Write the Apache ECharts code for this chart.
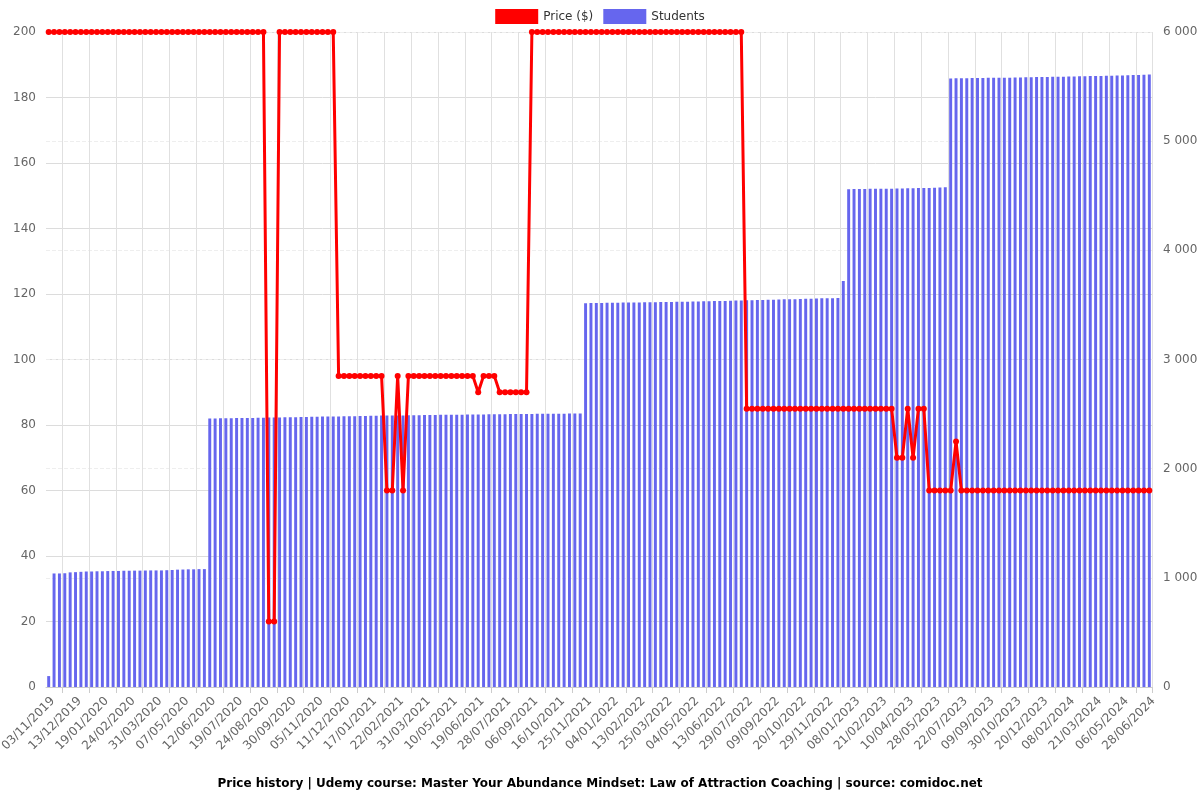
<!DOCTYPE html>
<html>
<head>
<meta charset="utf-8">
<script src="https://cdn.jsdelivr.net/npm/echarts@6/dist/echarts.min.js"></script>
<style>html,body{margin:0;padding:0;background:#fff}#chart{width:1200px;height:800px}</style>
</head>
<body>
<div id="chart"></div>
<script>
// Snapshot dates (category axis); every 5th date is shown as a tick label
const dates = [
'03/11/2019','11/11/2019','19/11/2019','27/11/2019','05/12/2019',
'13/12/2019','20/12/2019','28/12/2019','04/01/2020','11/01/2020',
'19/01/2020','26/01/2020','03/02/2020','10/02/2020','17/02/2020',
'24/02/2020','02/03/2020','09/03/2020','17/03/2020','24/03/2020',
'31/03/2020','07/04/2020','15/04/2020','22/04/2020','30/04/2020',
'07/05/2020','14/05/2020','21/05/2020','29/05/2020','05/06/2020',
'12/06/2020','19/06/2020','27/06/2020','04/07/2020','12/07/2020',
'19/07/2020','26/07/2020','02/08/2020','10/08/2020','17/08/2020',
'24/08/2020','31/08/2020','08/09/2020','15/09/2020','23/09/2020',
'30/09/2020','07/10/2020','14/10/2020','22/10/2020','29/10/2020',
'05/11/2020','12/11/2020','19/11/2020','27/11/2020','04/12/2020',
'11/12/2020','18/12/2020','26/12/2020','02/01/2021','10/01/2021',
'17/01/2021','24/01/2021','31/01/2021','08/02/2021','15/02/2021',
'22/02/2021','01/03/2021','09/03/2021','16/03/2021','24/03/2021',
'31/03/2021','08/04/2021','16/04/2021','24/04/2021','02/05/2021',
'10/05/2021','18/05/2021','26/05/2021','03/06/2021','11/06/2021',
'19/06/2021','27/06/2021','05/07/2021','12/07/2021','20/07/2021',
'28/07/2021','05/08/2021','13/08/2021','21/08/2021','29/08/2021',
'06/09/2021','14/09/2021','22/09/2021','30/09/2021','08/10/2021',
'16/10/2021','24/10/2021','01/11/2021','09/11/2021','17/11/2021',
'25/11/2021','03/12/2021','11/12/2021','19/12/2021','27/12/2021',
'04/01/2022','12/01/2022','20/01/2022','28/01/2022','05/02/2022',
'13/02/2022','21/02/2022','01/03/2022','09/03/2022','17/03/2022',
'25/03/2022','02/04/2022','10/04/2022','18/04/2022','26/04/2022',
'04/05/2022','12/05/2022','20/05/2022','28/05/2022','05/06/2022',
'13/06/2022','22/06/2022','01/07/2022','10/07/2022','20/07/2022',
'29/07/2022','06/08/2022','15/08/2022','23/08/2022','01/09/2022',
'09/09/2022','17/09/2022','25/09/2022','03/10/2022','12/10/2022',
'20/10/2022','28/10/2022','05/11/2022','13/11/2022','21/11/2022',
'29/11/2022','07/12/2022','15/12/2022','23/12/2022','31/12/2022',
'08/01/2023','17/01/2023','26/01/2023','03/02/2023','12/02/2023',
'21/02/2023','03/03/2023','13/03/2023','22/03/2023','01/04/2023',
'10/04/2023','20/04/2023','29/04/2023','09/05/2023','18/05/2023',
'28/05/2023','08/06/2023','19/06/2023','30/06/2023','11/07/2023',
'22/07/2023','01/08/2023','11/08/2023','21/08/2023','31/08/2023',
'09/09/2023','19/09/2023','29/09/2023','10/10/2023','20/10/2023',
'30/10/2023','09/11/2023','19/11/2023','30/11/2023','10/12/2023',
'20/12/2023','30/12/2023','09/01/2024','19/01/2024','29/01/2024',
'08/02/2024','16/02/2024','25/02/2024','04/03/2024','12/03/2024',
'21/03/2024','30/03/2024','08/04/2024','18/04/2024','27/04/2024',
'06/05/2024','16/05/2024','27/05/2024','06/06/2024','17/06/2024',
'28/06/2024'
];

const price = [
200,200,200,200,200,200,200,200,200,200,
200,200,200,200,200,200,200,200,200,200,
200,200,200,200,200,200,200,200,200,200,
200,200,200,200,200,200,200,200,200,200,
200,20,20,200,200,200,200,200,200,200,
200,200,200,200,95,95,95,95,95,95,
95,95,95,60,60,95,60,95,95,95,
95,95,95,95,95,95,95,95,95,95,
90,95,95,95,90,90,90,90,90,90,
200,200,200,200,200,200,200,200,200,200,
200,200,200,200,200,200,200,200,200,200,
200,200,200,200,200,200,200,200,200,200,
200,200,200,200,200,200,200,200,200,200,
85,85,85,85,85,85,85,85,85,85,
85,85,85,85,85,85,85,85,85,85,
85,85,85,85,85,85,85,85,70,70,
85,70,85,85,60,60,60,60,60,75,
60,60,60,60,60,60,60,60,60,60,
60,60,60,60,60,60,60,60,60,60,
60,60,60,60,60,60,60,60,60,60,
60,60,60,60,60,60
];

const students = [
100,1040,1040,1042,1050,1052,1055,1058,1058,1060,
1060,1062,1063,1063,1065,1065,1066,1066,1067,1068,
1068,1068,1070,1072,1075,1076,1078,1078,1080,1080,
2460,2460,2461,2462,2462,2463,2464,2465,2465,2466,
2467,2468,2468,2469,2470,2471,2472,2473,2474,2475,
2476,2477,2478,2478,2479,2480,2480,2481,2482,2483,
2484,2485,2486,2487,2487,2488,2488,2489,2490,2490,
2491,2492,2492,2493,2494,2494,2495,2495,2496,2496,
2497,2497,2498,2498,2499,2499,2500,2500,2500,2501,
2501,2502,2502,2503,2503,2504,2504,2505,2505,2505,
3516,3517,3518,3518,3519,3520,3520,3521,3522,3522,
3523,3524,3524,3525,3526,3526,3527,3528,3529,3530,
3531,3532,3533,3534,3535,3536,3537,3538,3540,3541,
3542,3543,3545,3546,3547,3548,3550,3551,3552,3553,
3555,3556,3557,3558,3560,3561,3562,3564,3720,4560,
4561,4562,4562,4563,4563,4564,4565,4565,4566,4567,
4568,4569,4570,4571,4572,4574,4576,4578,5575,5576,
5577,5577,5578,5578,5579,5580,5580,5581,5582,5582,
5583,5584,5585,5586,5587,5587,5588,5589,5590,5591,
5592,5593,5594,5595,5596,5597,5598,5599,5600,5601,
5602,5603,5605,5606,5608,5610
];

const titleText = 'Price history | Udemy course: Master Your Abundance Mindset: Law of Attraction Coaching | source: comidoc.net';

const chart = echarts.init(document.getElementById('chart'), null, {renderer: 'canvas'});
const FONT = 'DejaVu Sans';
chart.setOption({
  animation: false,
  textStyle: {fontFamily: FONT},
  title: {
    text: titleText,
    left: 'center',
    bottom: 5,
    textStyle: {fontFamily: FONT, fontSize: 12, fontWeight: 'bold', color: '#000'}
  },
  legend: {
    top: 4,
    left: 'center',
    itemWidth: 43,
    itemHeight: 15,
    itemGap: 10,
    icon: 'rect',
    textStyle: {fontFamily: FONT, fontSize: 12, color: '#333'},
    data: [{name: 'Price ($)', icon: 'rect'}, {name: 'Students', icon: 'rect'}]
  },
  grid: {left: 46, right: 48, top: 32, bottom: 113, containLabel: false, outerBoundsMode: 'none'},
  xAxis: {
    type: 'category',
    data: dates,
    boundaryGap: true,
    axisLine: {lineStyle: {color: '#ccc'}},
    axisTick: {show: true, length: 6, lineStyle: {color: '#ccc'}, interval: function (i) { return i % 5 === 3; }},
    axisLabel: {rotate: 45, interval: 4, fontSize: 12, color: '#666', fontFamily: FONT, margin: 8, verticalAlign: 'top'},
    splitLine: {show: true, lineStyle: {color: '#e0e0e0'}, interval: function (i) { return i % 5 === 3; }}
  },
  yAxis: [
    {
      type: 'value', min: 0, max: 200, interval: 20, position: 'left',
      axisLabel: {fontSize: 12, color: '#666', fontFamily: FONT, margin: 10},
      axisLine: {show: false}, axisTick: {show: false},
      splitLine: {lineStyle: {color: '#dcdcdc'}}
    },
    {
      type: 'value', min: 0, max: 6000, interval: 1000, position: 'right',
      axisLabel: {fontSize: 12, color: '#666', fontFamily: FONT, margin: 11,
        formatter: function (v) { return String(v).replace(/\B(?=(\d{3})+(?!\d))/g, ' '); }},
      axisLine: {show: false}, axisTick: {show: false},
      splitLine: {lineStyle: {color: '#eeeeee', type: 'dashed'}}
    }
  ],
  series: [
    {
      name: 'Price ($)',
      type: 'line',
      yAxisIndex: 0,
      data: price,
      z: 5,
      symbol: 'circle',
      symbolSize: 6,
      showAllSymbol: true,
      lineStyle: {color: '#ff0000', width: 3},
      itemStyle: {color: '#ff0000'}
    },
    {
      name: 'Students',
      type: 'bar',
      yAxisIndex: 1,
      data: students,
      z: 2,
      barCategoryGap: '45%',
      itemStyle: {color: '#6666ee'}
    }
  ]
});
</script>
</body>
</html>
